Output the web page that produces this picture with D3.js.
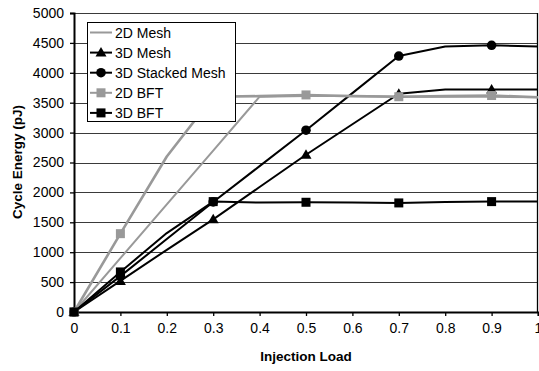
<!DOCTYPE html>
<html><head><meta charset="utf-8">
<script src="https://cdn.jsdelivr.net/npm/d3@7"></script>
<style>body{margin:0;background:#fff}svg{display:block;font-family:"Liberation Sans",Arial,sans-serif}</style>
</head><body><svg id="c" width="539" height="371"></svg>
<script>
const loads = [0, 0.1, 0.2, 0.3, 0.4, 0.5, 0.6, 0.7, 0.8, 0.9, 1.0];
const markerLoads = [0, 0.1, 0.3, 0.5, 0.7, 0.9];
const seriesNames = ["2D Mesh", "3D Mesh", "3D Stacked Mesh", "2D BFT", "3D BFT"];
const mesh2D =        [0, 900, 1800, 2700, 3600, 3610, 3610, 3600, 3600, 3600, 3590];
const mesh3D =        [0, 520, 1040, 1550, 2090, 2630, 3140, 3650, 3720, 3720, 3720];
const stackedMesh3D = [0, 600, 1220, 1840, 2440, 3040, 3660, 4280, 4440, 4460, 4440];
const bft2D =         [0, 1310, 2600, 3600, 3610, 3630, 3610, 3600, 3610, 3620, 3590];
const bft3D =         [0, 670, 1320, 1846, 1830, 1835, 1830, 1824, 1840, 1846, 1846];
const yTicks = [0, 500, 1000, 1500, 2000, 2500, 3000, 3500, 4000, 4500, 5000];
const xTicks = [0, 0.1, 0.2, 0.3, 0.4, 0.5, 0.6, 0.7, 0.8, 0.9, 1];
const seriesValues = [mesh2D, mesh3D, stackedMesh3D, bft2D, bft3D];
const seriesColors = ["#999999", "#000000", "#000000", "#999999", "#000000"];
const seriesMarkers = ["none", "triangle", "circle", "square", "square"];

const svg = d3.select("#c");
const x = d3.scaleLinear().domain([0, 1]).range([74, 538]);
const y = d3.scaleLinear().domain([0, 5000]).range([312, 13]);

// gridlines
svg.append("g").selectAll("line").data(yTicks.filter(d => d > 0)).join("line")
  .attr("x1", x(0)).attr("x2", x(1))
  .attr("y1", d => Math.round(y(d)) + 0.5).attr("y2", d => Math.round(y(d)) + 0.5)
  .attr("stroke", "#3a3a3a").attr("stroke-width", 1);
// right border
svg.append("line").attr("x1", x(1) - 0.5).attr("x2", x(1) - 0.5).attr("y1", y(5000)).attr("y2", y(0))
  .attr("stroke", "#000").attr("stroke-width", 1.3);

// axes
const yAxis = svg.append("g").attr("transform", `translate(${x(0)},0)`)
  .call(d3.axisLeft(y).tickValues(yTicks).tickSize(4).tickPadding(6).tickFormat(d3.format("d")));
const xAxis = svg.append("g").attr("transform", `translate(0,${y(0)})`)
  .call(d3.axisBottom(x).tickValues(xTicks).tickSize(4).tickPadding(7).tickFormat(d => d === 0 || d === 1 ? String(d) : d3.format(".1f")(d)));
[yAxis, xAxis].forEach(a => {
  a.select(".domain").attr("stroke", "#000").attr("stroke-width", 2);
  a.selectAll(".tick line").attr("stroke", "#000").attr("stroke-width", 1.3);
  a.selectAll("text").attr("font-size", 14).attr("fill", "#000").attr("font-family", "Liberation Sans, Arial, sans-serif");
});

// axis titles
svg.append("text").attr("x", 306).attr("y", 361).attr("text-anchor", "middle")
  .attr("font-size", 13.5).attr("font-weight", "bold").text("Injection Load");
svg.append("text").attr("transform", "translate(22,162) rotate(-90)").attr("text-anchor", "middle")
  .attr("font-size", 13.5).attr("font-weight", "bold").text("Cycle Energy (pJ)");

function drawMarker(g, type, color, cx, cy) {
  if (type === "square") {
    g.append("rect").attr("x", cx - 4.5).attr("y", cy - 4.5).attr("width", 9).attr("height", 9).attr("fill", color);
  } else if (type === "circle") {
    g.append("circle").attr("cx", cx).attr("cy", cy).attr("r", 4.8).attr("fill", color);
  } else if (type === "triangle") {
    g.append("path").attr("d", `M${cx},${cy - 5.5}L${cx + 5.5},${cy + 4}L${cx - 5.5},${cy + 4}Z`).attr("fill", color);
  }
}

const line = d3.line().x(d => x(d[0])).y(d => y(d[1]));
seriesValues.forEach((vals, i) => {
  const g = svg.append("g");
  const pts = loads.map((l, j) => [l, vals[j]]);
  g.append("path").attr("d", line(pts)).attr("fill", "none")
    .attr("stroke", seriesColors[i]).attr("stroke-width", i === 3 ? 2.6 : 2)
    .attr("stroke-linejoin", "round");
  if (seriesMarkers[i] !== "none") {
    pts.filter(p => markerLoads.includes(p[0])).forEach(p => drawMarker(g, seriesMarkers[i], seriesColors[i], x(p[0]), y(p[1])));
  }
});

// legend
const lg = svg.append("g");
lg.append("rect").attr("x", 87.5).attr("y", 22.5).attr("width", 148).attr("height", 99)
  .attr("fill", "#fff").attr("stroke", "#000").attr("stroke-width", 1);
seriesNames.forEach((name, i) => {
  const cy = 32.5 + i * 20.1;
  lg.append("line").attr("x1", 90).attr("x2", 112).attr("y1", cy).attr("y2", cy)
    .attr("stroke", seriesColors[i]).attr("stroke-width", 2);
  drawMarker(lg, seriesMarkers[i], seriesColors[i], 101, cy);
  lg.append("text").attr("x", 115).attr("y", cy + 5).attr("font-size", 14).text(name);
});
</script></body></html>
